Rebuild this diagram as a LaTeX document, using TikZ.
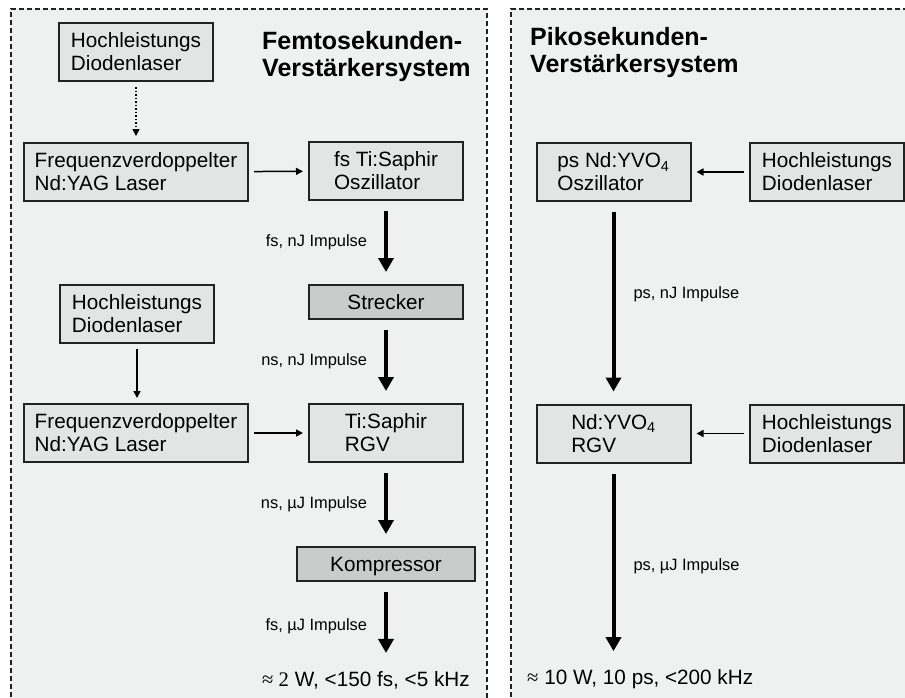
\documentclass[tikz,border=0pt]{standalone}
\usepackage{fontspec}
\setmainfont{Liberation Sans}
\newfontfamily\serifsym{Liberation Serif}
\usetikzlibrary{arrows.meta}

\definecolor{panelgray}{HTML}{EFF0F0}
\definecolor{boxgray}{HTML}{E3E4E4}
\definecolor{boxdark}{HTML}{CACBCB}
\definecolor{linegray}{HTML}{222222}

\begin{document}
\begin{tikzpicture}[x=1pt,y=-1pt,>=Stealth,
  box/.style={draw=linegray,line width=2pt,fill=boxgray,minimum width=154pt,
    minimum height=58pt,inner sep=0pt,align=left,font=\fontsize{20.7}{23}\selectfont},
  widebox/.style={box,minimum width=224pt},
  flatbox/.style={box,fill=boxdark,minimum height=34pt,text depth=0pt},
  thinarr/.style={line width=1.5pt,-{Triangle[width=7pt,length=7pt]},
    shorten <=5pt,shorten >=5pt},
  thickarr/.style={line width=4pt,-{Triangle[width=15pt,length=14pt]},
    shorten <=10pt,shorten >=12pt},
  pulse/.style={font=\fontsize{16.4}{18}\selectfont,inner sep=0pt},
  result/.style={font=\fontsize{20.7}{23}\selectfont,inner sep=0pt},
  headline/.style={font=\fontsize{25}{27}\selectfont\bfseries,align=left,inner sep=0pt},
  panel/.style={draw=linegray,line width=1.5pt,dash pattern=on 5pt off 3pt}]
  \useasboundingbox (0,0) rectangle (905,697);
  % panels
  \fill[panelgray] (11,9) rectangle (487,705);
  \fill[panelgray] (511,9) rectangle (915,705);
  \draw[panel] (11,705) -- (11,9) -- (487,9) -- (487,705);
  \draw[panel] (511,705) -- (511,9) -- (915,9);
  % femtosecond system
  \node[headline,anchor=north west] (femto) at (262,31) {Femtosekunden-\\Verstärkersystem};
  \node[box] (hlA) at (136,52) {Hochleistungs\\Diodenlaser};
  \node[widebox] (fvA) at (136,172) {Frequenzverdoppelter\\Nd:YAG Laser};
  \node[box] (osc) at (386,171) {fs Ti:Saphir\\Oszillator};
  \node[flatbox] (strecker) at (386,302) {Strecker};
  \node[box] (hlB) at (137,314) {Hochleistungs\\Diodenlaser};
  \node[widebox] (fvB) at (136,433) {Frequenzverdoppelter\\Nd:YAG Laser};
  \node[box] (rgv) at (386,433) {Ti:Saphir\\RGV};
  \node[flatbox,minimum width=178pt] (komp) at (386,564) {Kompressor};
  \node[result,anchor=west] (outfs) at (262,680) {{\serifsym ≈ 2} W, <150 fs, <5 kHz};
  \draw[thinarr,dotted,shorten >=6pt] (hlA) -- (fvA);
  \draw[thinarr] (fvA) -- (osc);
  \draw[thinarr] (hlB.south) -- (hlB.south |- fvB.north);
  \draw[thinarr] (fvB) -- (rgv);
  \draw[thickarr] (osc) -- (strecker) node[pulse,midway,left=17pt] {fs, nJ Impulse};
  \draw[thickarr] (strecker) -- (rgv) node[pulse,midway,left=17pt] {ns, nJ Impulse};
  \draw[thickarr] (rgv) -- (komp) node[pulse,midway,left=17pt] {ns, µJ Impulse};
  \draw[thickarr,shorten >=18pt] (komp) -- (komp.south |- outfs.north)
    node[pulse,midway,left=17pt] {fs, µJ Impulse};
  % picosecond system
  \node[headline,anchor=north west] (pico) at (530,27) {Pikosekunden-\\Verstärkersystem};
  \node[box] (psosc) at (613.5,172) {ps Nd:YVO\textsubscript{4}\\Oszillator};
  \node[box] (hlC) at (827,172) {Hochleistungs\\Diodenlaser};
  \node[box] (yvo) at (613.5,433.5) {Nd:YVO\textsubscript{4}\\RGV};
  \node[box] (hlD) at (827,433.5) {Hochleistungs\\Diodenlaser};
  \node[result,anchor=west] (outps) at (527,679) {{\serifsym ≈} 10 W, 10 ps, <200 kHz};
  \draw[thinarr] (hlC) -- (psosc);
  \draw[thinarr] (hlD) -- (yvo);
  \draw[thickarr] (psosc) -- (yvo) node[pulse,pos=0.46,right=18pt] {ps, nJ Impulse};
  \draw[thickarr,shorten >=18pt] (yvo) -- (yvo.south |- outps.north)
    node[pulse,midway,right=18pt] {ps, µJ Impulse};
\end{tikzpicture}
\end{document}
